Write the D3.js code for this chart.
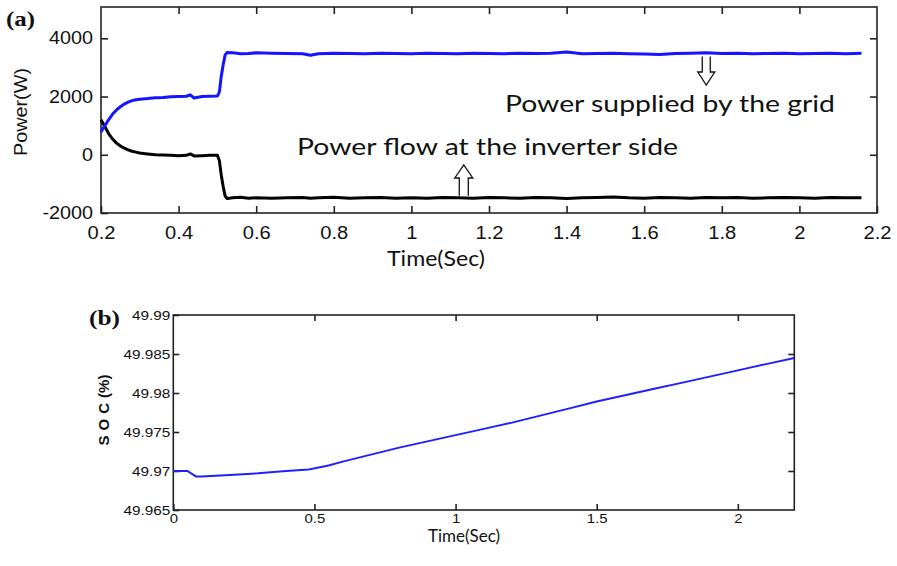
<!DOCTYPE html>
<html><head><meta charset="utf-8">
<script src="https://cdn.jsdelivr.net/npm/d3@7"></script>
<style>
body{margin:0;background:#fff;}
svg{display:block;}
</style></head>
<body><svg id="c" width="897" height="566"></svg>
<script>
// ---- Panel (a) data ----
const timeA = [0.20,0.21,0.22,0.23,0.24,0.25,0.26,0.27,0.28,0.29,0.30,0.32,0.34,0.36,0.38,0.40,0.42,0.43,0.44,0.46,0.48,0.50,0.505,0.51,0.515,0.52,0.525,0.54,0.56,0.58,0.60,0.64,0.68,0.72,0.74,0.76,0.80,0.84,0.88,0.92,0.96,1.00,1.04,1.08,1.12,1.16,1.20,1.24,1.28,1.32,1.36,1.40,1.44,1.48,1.52,1.56,1.60,1.64,1.68,1.72,1.76,1.80,1.84,1.88,1.92,1.96,2.00,2.04,2.08,2.12,2.16];
const gridPower = [780,1000,1210,1400,1540,1650,1740,1810,1860,1890,1910,1930,1960,1970,1990,2000,2010,2060,1950,2000,2010,2020,2150,2700,3100,3430,3510,3500,3470,3480,3500,3490,3480,3470,3420,3470,3490,3480,3470,3490,3480,3470,3490,3480,3470,3490,3480,3470,3490,3480,3490,3530,3470,3480,3490,3470,3460,3440,3480,3490,3500,3480,3490,3470,3480,3490,3470,3480,3490,3470,3490];
const inverterPower = [1200,960,720,540,400,300,230,170,120,90,60,30,0,-10,-20,-30,-20,30,-40,-30,-20,-20,-200,-700,-1100,-1420,-1500,-1480,-1460,-1490,-1480,-1490,-1480,-1470,-1490,-1480,-1460,-1490,-1480,-1470,-1490,-1480,-1490,-1470,-1480,-1490,-1470,-1480,-1490,-1470,-1480,-1500,-1480,-1470,-1450,-1480,-1490,-1470,-1480,-1490,-1470,-1480,-1470,-1490,-1480,-1470,-1480,-1490,-1470,-1480,-1480];
const ticksXA = [0.2,0.4,0.6,0.8,1,1.2,1.4,1.6,1.8,2,2.2];
const ticksYA = [-2000,0,2000,4000];
const labelsA = {grid:"Power supplied by the grid", inverter:"Power flow at the inverter side"};

// ---- Panel (b) data ----
const timeB = [0,0.05,0.08,0.10,0.15,0.20,0.30,0.40,0.48,0.55,0.60,0.70,0.80,0.90,1.00,1.10,1.20,1.30,1.40,1.50,1.60,1.70,1.80,1.90,2.00,2.10,2.20];
const soc = [49.9700,49.9700,49.9693,49.9693,49.9694,49.9695,49.9697,49.9700,49.9702,49.9707,49.9712,49.9721,49.9730,49.9738,49.9746,49.9754,49.9762,49.9771,49.9780,49.9789,49.9797,49.9805,49.9813,49.9821,49.9829,49.9837,49.9845];
const ticksXB = [0,0.5,1,1.5,2];
const ticksYB = [49.965,49.97,49.975,49.98,49.985,49.99];

const svg = d3.select("#c");
const fmt = d => String(d);

function stretch(sel, k){
  sel.each(function(){ const w=this.getComputedTextLength(); d3.select(this).attr("textLength",w*k).attr("lengthAdjust","spacingAndGlyphs"); });
}
function fit(sel, w, adj){ sel.attr("textLength",w).attr("lengthAdjust",adj||"spacingAndGlyphs"); return sel; }

function frame(g, x, y, xt, yt, tickLen){
  const [x0,x1] = x.range(), [y0,y1] = y.range();
  const ax = g.append("g").attr("transform",`translate(0,${y0})`)
    .call(d3.axisBottom(x).tickValues(xt).tickSize(-tickLen).tickSizeOuter(0).tickPadding(0).tickFormat(fmt));
  const ay = g.append("g").attr("transform",`translate(${x0},0)`)
    .call(d3.axisLeft(y).tickValues(yt).tickSize(-tickLen).tickSizeOuter(0).tickPadding(0).tickFormat(fmt));
  g.append("g").attr("transform",`translate(0,${y1})`)
    .call(d3.axisTop(x).tickValues(xt.filter(v=>v>x.domain()[0] && v<x.domain()[1])).tickSize(-tickLen).tickSizeOuter(0).tickFormat(""));
  g.append("g").attr("transform",`translate(${x1},0)`)
    .call(d3.axisRight(y).tickValues(yt.filter(v=>v>y.domain()[0] && v<y.domain()[1])).tickSize(-tickLen).tickSizeOuter(0).tickFormat(""));
  g.selectAll(".domain").remove();
  g.selectAll(".tick line").attr("stroke","#222").attr("stroke-width",1.6);
  g.append("rect").attr("x",x0).attr("y",y1).attr("width",x1-x0).attr("height",y0-y1)
    .attr("fill","none").attr("stroke","#222").attr("stroke-width",1.6);
  return {ax, ay};
}

// ===== Panel (a) =====
const xA = d3.scaleLinear().domain([0.2,2.2]).range([101,877]);
const yA = d3.scaleLinear().domain([-2000,5075]).range([213,7]);
const gA = svg.append("g");
const axesA = frame(gA, xA, yA, ticksXA, ticksYA, 7);
axesA.ax.selectAll("text").attr("font-family","Liberation Sans, Arial, sans-serif").attr("font-size",17.5)
  .attr("fill","#111").attr("y",14).attr("dy","0.71em");
axesA.ay.selectAll("text").attr("font-family","Liberation Sans, Arial, sans-serif").attr("font-size",17.5)
  .attr("fill","#111").attr("x",-8);
stretch(axesA.ax.selectAll("text"),1.15);
stretch(axesA.ay.selectAll("text"),1.13);

const lineA = (vals)=>d3.line().x((d,i)=>xA(timeA[i])).y((d)=>yA(d))(vals);
gA.append("path").attr("d",lineA(inverterPower)).attr("fill","none").attr("stroke","#000").attr("stroke-width",3).attr("stroke-linejoin","round");
gA.append("path").attr("d",lineA(gridPower)).attr("fill","none").attr("stroke","#1414ff").attr("stroke-width",3).attr("stroke-linejoin","round");

fit(gA.append("text").attr("x",436).attr("y",266).attr("text-anchor","middle")
  .attr("font-family","Lato, sans-serif").attr("font-size",20.5).attr("fill","#111").text("Time(Sec)"), 98);
fit(gA.append("text").attr("transform","translate(27,112) rotate(-90)").attr("text-anchor","middle")
  .attr("font-family","Liberation Sans, Arial, sans-serif").attr("font-size",18).attr("fill","#111").text("Power(W)"), 88);
fit(svg.append("text").attr("x",6).attr("y",26).attr("font-family","Liberation Serif, Times New Roman, serif")
  .attr("font-weight","bold").attr("font-size",22).attr("fill","#111").text("(a)"), 29);

// annotations
fit(gA.append("text").attr("x",670).attr("y",112).attr("text-anchor","middle")
  .attr("font-family","Lato, sans-serif").attr("font-size",23).attr("fill","#111").text(labelsA.grid), 330);
fit(gA.append("text").attr("x",487.5).attr("y",155).attr("text-anchor","middle")
  .attr("font-family","Lato, sans-serif").attr("font-size",23).attr("fill","#111").text(labelsA.inverter), 381);

function hollowArrow(g, cx, yBase, yTip, sw, hw){
  const dir = yTip > yBase ? 1 : -1;
  const head = 13;
  const yh = yTip - dir*head;
  const p = `M${cx-sw},${yBase} L${cx-sw},${yh} L${cx-hw},${yh} L${cx},${yTip} L${cx+hw},${yh} L${cx+sw},${yh} L${cx+sw},${yBase}`;
  g.append("path").attr("d",p).attr("fill","#fff").attr("stroke","#111").attr("stroke-width",1.3);
}
hollowArrow(gA, xA(1.76), yA(3480)+3, 85, 4, 8.5);
hollowArrow(gA, xA(1.135), yA(-1480)-2, 165, 4.5, 9);

// ===== Panel (b) =====
const xB = d3.scaleLinear().domain([0,2.2]).range([173.3,794.3]);
const yB = d3.scaleLinear().domain([49.965,49.99]).range([510,315]);
const gB = svg.append("g");
const axesB = frame(gB, xB, yB, ticksXB, ticksYB, 6);
axesB.ax.selectAll("text").attr("font-family","Liberation Sans, Arial, sans-serif").attr("font-size",13)
  .attr("fill","#111").attr("y",4).attr("dy","0.71em");
axesB.ay.selectAll("text").attr("font-family","Liberation Sans, Arial, sans-serif").attr("font-size",13)
  .attr("fill","#111").attr("x",-3);
stretch(axesB.ax.selectAll("text"),1.15);
stretch(axesB.ay.selectAll("text"),1.18);

gB.append("path").attr("d",d3.line().x((d,i)=>xB(timeB[i])).y(d=>yB(d))(soc))
  .attr("fill","none").attr("stroke","#2020ff").attr("stroke-width",2);

fit(gB.append("text").attr("x",464).attr("y",542).attr("text-anchor","middle")
  .attr("font-family","Lato, sans-serif").attr("font-size",16.5).attr("fill","#111").text("Time(Sec)"), 72);
const socLabel = gB.append("text").attr("transform","translate(109,410) rotate(-90)").attr("text-anchor","middle")
  .attr("font-family","Liberation Sans, Arial, sans-serif").attr("font-weight","bold").attr("font-size",15)
  .attr("fill","#111");
socLabel.append("tspan").attr("letter-spacing",5).text("SOC");
socLabel.append("tspan").attr("letter-spacing",0).text("(%)");
fit(svg.append("text").attr("x",89).attr("y",325).attr("font-family","Liberation Serif, Times New Roman, serif")
  .attr("font-weight","bold").attr("font-size",22).attr("fill","#111").text("(b)"), 31);
</script>
</body></html>
